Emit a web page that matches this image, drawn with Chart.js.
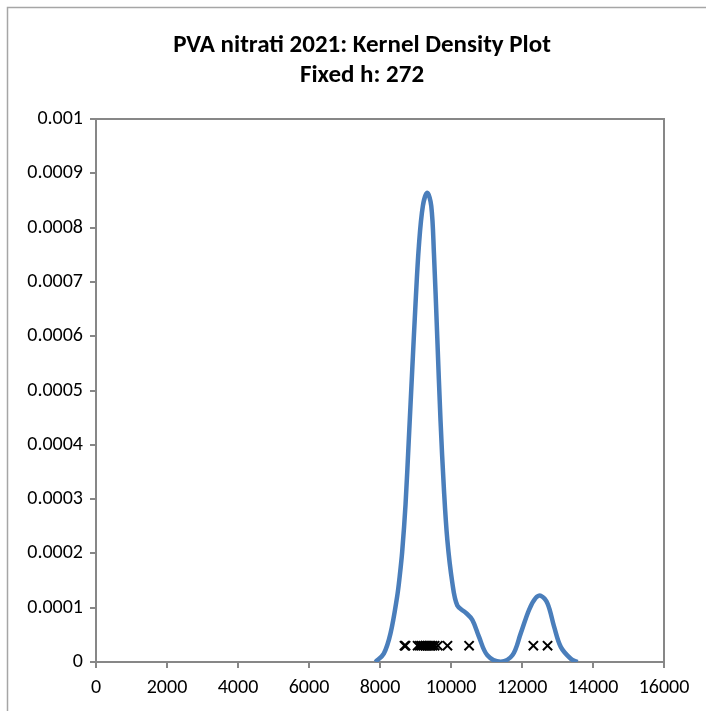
<!DOCTYPE html>
<html>
<head>
<meta charset="utf-8">
<script src="https://cdn.jsdelivr.net/npm/chart.js@4.4.1/dist/chart.umd.min.js"></script>
<style>
  html, body { margin: 0; padding: 0; background: #fff; }
  #wrap { width: 706px; height: 711px; position: relative; }
</style>
</head>
<body>
<div id="wrap"><canvas id="kdecanvas"></canvas></div>
<script>
// density curve
var kdeX = [7870, 8107, 8296, 8484, 8555, 8625, 8719, 8813, 8907, 9001, 9095, 9208, 9331,
            9444, 9519, 9613, 9706, 9800, 9895, 10037, 10178, 10412, 10600, 10788,
            11024, 11399, 11729, 11964, 12199, 12387, 12528, 12717, 12904, 13092,
            13374, 13563];
var kdeY = [0, 0.0000154, 0.0000527, 0.000121, 0.000158, 0.000203, 0.000290, 0.000412, 0.000537,
            0.000660, 0.000766, 0.000840, 0.000864, 0.000840, 0.000753, 0.000598,
            0.000443, 0.000319, 0.000226, 0.000146, 0.000104, 0.0000910, 0.0000775,
            0.0000465, 0.0000123, 0.0000005, 0.0000123, 0.0000527, 0.0000962,
            0.000118, 0.000122, 0.000108, 0.000065, 0.0000278, 0.000006, 0];

// observations (plotted as crosses)
var obsX = [8690, 8720, 9060, 9120, 9170, 9220, 9280, 9330, 9380, 9430, 9480, 9540,
            9630, 9900, 10510, 12320, 12720];
var obsY = [0.00003, 0.00003, 0.00003, 0.00003, 0.00003, 0.00003, 0.00003, 0.00003,
            0.00003, 0.00003, 0.00003, 0.00003, 0.00003, 0.00003, 0.00003, 0.00003,
            0.00003];

var xTicks = [0, 2000, 4000, 6000, 8000, 10000, 12000, 14000, 16000];
var yTicks = [0, 0.0001, 0.0002, 0.0003, 0.0004, 0.0005, 0.0006, 0.0007, 0.0008, 0.0009, 0.001];

var titleLines = ['PVA nitrati 2021: Kernel Density Plot', 'Fixed h: 272'];

var fontFam = "Carlito, Calibri, 'Liberation Sans', sans-serif";
var axisGray = '#878787';

var pairs = (xs, ys) => xs.map((x, i) => ({ x: x, y: ys[i] }));

// plot frame + outer chart border
var framePlugin = {
    id: 'frame',
    beforeDraw(chart) {
        var c = chart.ctx;
        c.save();
        c.strokeStyle = '#a6a6a6';
        c.lineWidth = 1.5;
        c.beginPath();
        c.moveTo(7.5, 711);
        c.lineTo(7.5, 7.5);
        c.lineTo(706, 7.5);
        c.stroke();
        c.restore();
    },
    afterDatasetsDraw(chart) {
        var a = chart.chartArea;
        var c = chart.ctx;
        c.save();
        c.strokeStyle = axisGray;
        c.lineWidth = 2;
        c.beginPath();
        c.moveTo(a.left, a.top);
        c.lineTo(a.right, a.top);
        c.lineTo(a.right, a.bottom);
        c.stroke();
        c.restore();
    }
};

Chart.defaults.font.family = fontFam;
Chart.defaults.color = '#000';

var ctx = document.getElementById('kdecanvas').getContext('2d');
new Chart(ctx, {
    type: 'scatter',
    data: {
        datasets: [{
            data: pairs(kdeX, kdeY),
            showLine: true,
            borderColor: '#4a7ebb',
            borderWidth: 4.5,
            pointRadius: 0,
            tension: 0.35,
            order: 2
        }, {
            data: pairs(obsX, obsY),
            showLine: false,
            pointStyle: 'crossRot',
            pointRadius: 6.5,
            borderColor: '#000',
            borderWidth: 2,
            order: 1
        }]
    },
    options: {
        responsive: true,
        maintainAspectRatio: false,
        animation: false,
        layout: { padding: { left: 25, right: 7, top: 8, bottom: 0 } },
        plugins: {
            legend: { display: false },
            tooltip: { enabled: false },
            title: {
                display: true,
                text: titleLines,
                font: { size: 25, weight: 'bold' },
                lineHeight: 1.16,
                padding: { top: 23, bottom: 28 }
            }
        },
        scales: {
            x: {
                type: 'linear',
                min: 0,
                max: 16000,
                afterBuildTicks: s => { s.ticks = xTicks.map(v => ({ value: v })); },
                afterFit: s => { s.height = 49; s.paddingRight = 42; },
                grid: { drawOnChartArea: false, drawTicks: true, tickLength: 6, color: axisGray, lineWidth: 2 },
                border: { display: true, color: axisGray, width: 2 },
                ticks: { font: { size: 20 }, padding: 8, maxRotation: 0, autoSkip: false, callback: v => String(v) }
            },
            y: {
                type: 'linear',
                min: 0,
                max: 0.001,
                afterBuildTicks: s => { s.ticks = yTicks.map(v => ({ value: v })); },
                afterFit: s => { s.width = 71; },
                grid: { drawOnChartArea: false, drawTicks: true, tickLength: 6, color: axisGray, lineWidth: 2 },
                border: { display: true, color: axisGray, width: 2 },
                ticks: { font: { size: 20 }, padding: 7, callback: v => String(parseFloat(v.toFixed(4))) }
            }
        }
    },
    plugins: [framePlugin]
});
</script>
</body>
</html>
